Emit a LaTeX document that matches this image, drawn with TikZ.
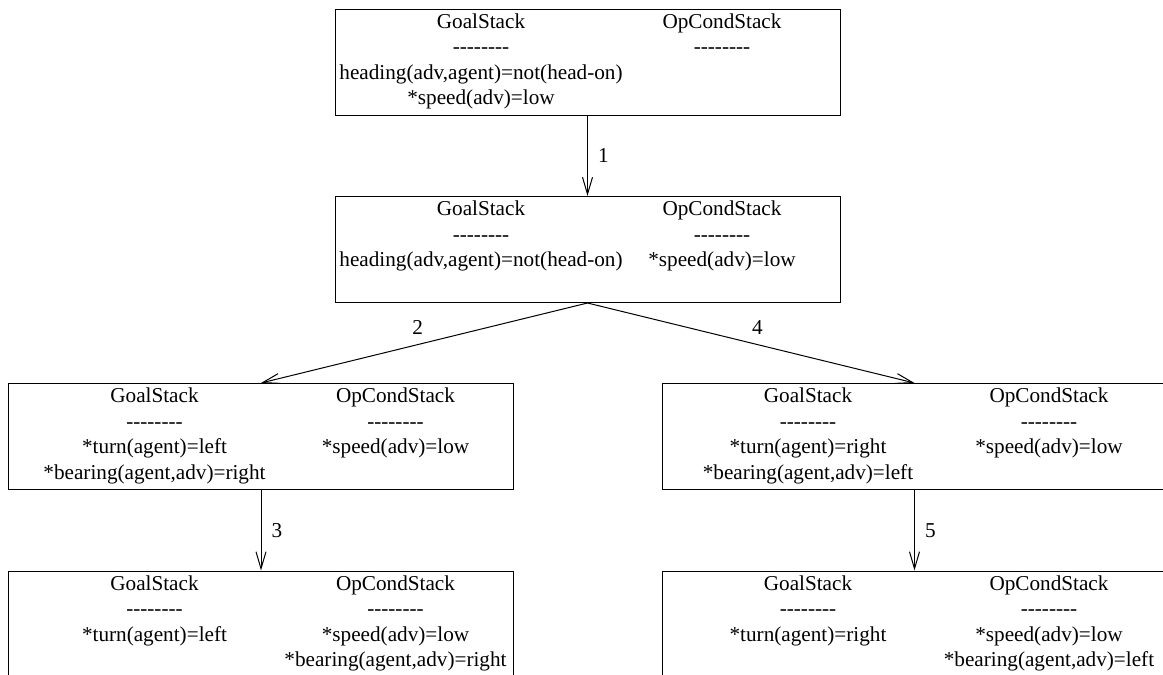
\documentclass[tikz,border=0pt]{standalone}
\usepackage{fontspec}
\usepackage{array}
\setmainfont{Liberation Serif}
\usetikzlibrary{arrows.meta}
\newcolumntype{G}{>{\hbox to 269pt\bgroup\hss}l<{\hss\egroup}}
\newcolumntype{O}{>{\hbox to 213pt\bgroup\hss}l<{\hss\egroup}}
\newcommand{\dashrow}{\mbox{-}\mbox{-}\mbox{-}\mbox{-}\mbox{-}\mbox{-}\mbox{-}\mbox{-}}
\tikzset{
  every node/.style={font=\fontsize{21.2pt}{25.5pt}\selectfont},
  state/.style={draw, line width=1pt, minimum width=505pt, inner xsep=0pt, inner ysep=0pt, text height=19.2pt, text depth=86.8pt},
  trans/.style={line width=1pt, -{Straight Barb[length=17pt,width=10pt]}},
  lbl/.style={inner sep=2pt}
}
\begin{document}
\begin{tikzpicture}[x=1pt,y=-1pt]
	\useasboundingbox (0,0) rectangle (1163,675);
	\node[state] (init) at (587.5,62) {\begin{tabular}[t]{@{}G@{}O@{}}GoalStack & OpCondStack\\ \dashrow & \dashrow\\ heading(adv,agent)=not(head-on) & \\ {*}speed(adv)=low & \end{tabular}};
	\node[state] (sub) at (587.5,249.5) {\begin{tabular}[t]{@{}G@{}O@{}}GoalStack & OpCondStack\\ \dashrow & \dashrow\\ heading(adv,agent)=not(head-on) & *speed(adv)=low\end{tabular}};
	\node[state] (lturn) at (261,436.5) {\begin{tabular}[t]{@{}G@{}O@{}}GoalStack & OpCondStack\\ \dashrow & \dashrow\\ {*}turn(agent)=left & *speed(adv)=low\\ {*}bearing(agent,adv)=right & \end{tabular}};
	\node[state] (rturn) at (914.5,436.5) {\begin{tabular}[t]{@{}G@{}O@{}}GoalStack & OpCondStack\\ \dashrow & \dashrow\\ {*}turn(agent)=right & *speed(adv)=low\\ {*}bearing(agent,adv)=left & \end{tabular}};
	\node[state] (lend) at (261,624) {\begin{tabular}[t]{@{}G@{}O@{}}GoalStack & OpCondStack\\ \dashrow & \dashrow\\ {*}turn(agent)=left & *speed(adv)=low\\ & *bearing(agent,adv)=right\end{tabular}};
	\node[state] (rend) at (914.5,624) {\begin{tabular}[t]{@{}G@{}O@{}}GoalStack & OpCondStack\\ \dashrow & \dashrow\\ {*}turn(agent)=right & *speed(adv)=low\\ & *bearing(agent,adv)=left\end{tabular}};
	\draw[trans] (init) -- node[lbl,right=8pt] {1} (sub);
	\draw[trans] (sub.south) -- node[lbl,pos=0.52,above=8pt] {2} (lturn.north);
	\draw[trans] (sub.south) -- node[lbl,pos=0.52,above=8pt] {4} (rturn.north);
	\draw[trans] (lturn) -- node[lbl,right=8pt] {3} (lend);
	\draw[trans] (rturn) -- node[lbl,right=8pt] {5} (rend);
\end{tikzpicture}
\end{document}
